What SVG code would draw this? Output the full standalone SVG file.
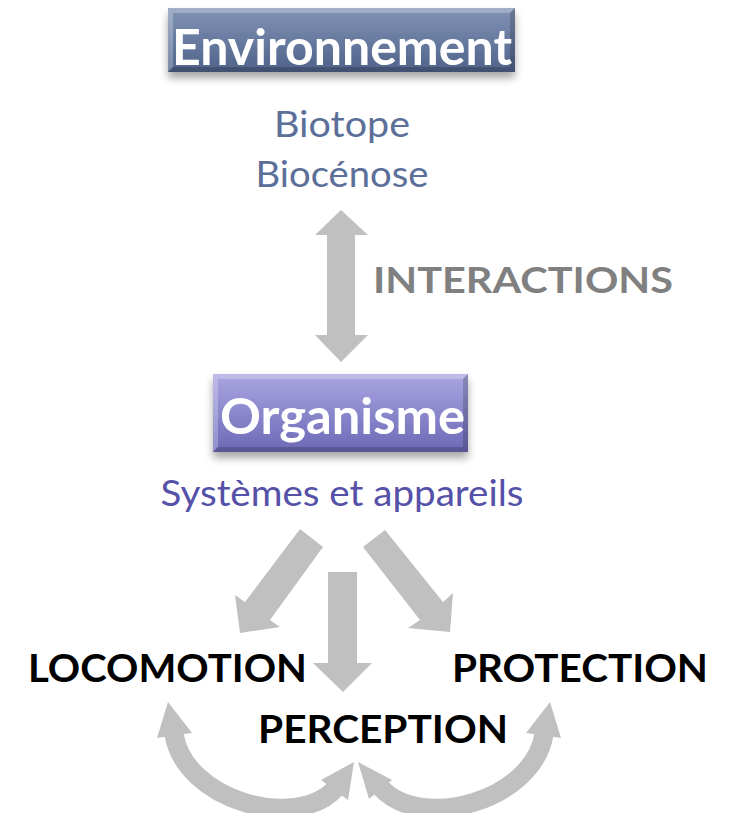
<svg xmlns="http://www.w3.org/2000/svg" width="734" height="813" viewBox="0 0 734 813">
  <defs>
    <linearGradient id="gEnv" x1="0" y1="0" x2="0" y2="1">
      <stop offset="0" stop-color="#8194b6"/>
      <stop offset="1" stop-color="#4f6289"/>
    </linearGradient>
    <linearGradient id="gOrg" x1="0" y1="0" x2="0" y2="1">
      <stop offset="0" stop-color="#aaa6e2"/>
      <stop offset="1" stop-color="#6c68b6"/>
    </linearGradient>
    <filter id="shadow" x="-10%" y="-20%" width="120%" height="160%">
      <feGaussianBlur in="SourceAlpha" stdDeviation="4"/>
      <feOffset dx="0" dy="6" result="b"/>
      <feComponentTransfer><feFuncA type="linear" slope="0.35"/></feComponentTransfer>
      <feMerge><feMergeNode/><feMergeNode in="SourceGraphic"/></feMerge>
    </filter>
  </defs>
  <style>
    .title { font-family: Lato, "Open Sans", "Liberation Sans", sans-serif; font-weight: 700; font-size: 49px; fill: #ffffff; }
    .sub { font-family: Lato, "Open Sans", "Liberation Sans", sans-serif; font-size: 37px; text-anchor: middle; }
    .label { font-family: Lato, "Open Sans", "Liberation Sans", sans-serif; font-weight: 700; font-size: 38px; fill: #000000; }
    .gray { fill: #c0c0c0; }
    .curve { fill: none; stroke: #c0c0c0; stroke-width: 19; }
    .bevel-light { fill: #ffffff; opacity: 0.25; }
    .bevel-dark { fill: #000000; opacity: 0.18; }
  </style>

  <rect width="734" height="813" fill="#ffffff"/>

  <!-- Environment box -->
  <g id="environnement">
    <g filter="url(#shadow)">
      <rect x="168" y="8" width="347" height="64" fill="url(#gEnv)"/>
    </g>
    <polygon class="bevel-light" points="168,8 515,8 510,13 173,13"/>
    <polygon class="bevel-light" points="168,8 173,13 173,67 168,72"/>
    <polygon class="bevel-dark" points="515,8 515,72 510,67 510,13"/>
    <polygon class="bevel-dark" points="168,72 515,72 510,67 173,67"/>
    <text class="title" x="172" y="65" textLength="340" lengthAdjust="spacingAndGlyphs">Environnement</text>
  </g>

  <g id="biotope">
    <text class="sub" x="342" y="137" fill="#5b6f99" textLength="136" lengthAdjust="spacingAndGlyphs">Biotope</text>
    <text class="sub" x="342" y="187" fill="#5b6f99" textLength="173" lengthAdjust="spacingAndGlyphs">Biocénose</text>
  </g>

  <!-- Organism box -->
  <g id="organisme">
    <g filter="url(#shadow)">
      <rect x="213" y="374" width="255" height="78" fill="url(#gOrg)"/>
    </g>
    <polygon class="bevel-light" points="213,374 468,374 463,379 218,379"/>
    <polygon class="bevel-light" points="213,374 218,379 218,447 213,452"/>
    <polygon class="bevel-dark" points="468,374 468,452 463,447 463,379"/>
    <polygon class="bevel-dark" points="213,452 468,452 463,447 218,447"/>
    <text class="title" x="220" y="434" textLength="245" lengthAdjust="spacingAndGlyphs">Organisme</text>
  </g>

  <g id="systemes">
    <text class="sub" x="342" y="506" fill="#5550a8" textLength="363" lengthAdjust="spacingAndGlyphs">Systèmes et appareils</text>
  </g>

  <g id="interactions-label">
    <text x="373" y="293" font-family="Lato, 'Open Sans', 'Liberation Sans', sans-serif" font-weight="700" font-size="36" fill="#808080" textLength="300" lengthAdjust="spacingAndGlyphs">INTERACTIONS</text>
  </g>

  <g id="locomotion">
    <text class="label" x="28" y="682" textLength="279" lengthAdjust="spacingAndGlyphs">LOCOMOTION</text>
  </g>
  <g id="protection">
    <text class="label" x="452" y="682" textLength="256" lengthAdjust="spacingAndGlyphs">PROTECTION</text>
  </g>
  <g id="perception">
    <text class="label" x="258" y="743" textLength="250" lengthAdjust="spacingAndGlyphs">PERCEPTION</text>
  </g>

  <!-- Connectors -->
  <g id="connectors">
    <!-- double arrow between environment and organism -->
    <polygon class="gray" points="341,210 368,235 355,235 355,335 368,335 341,362 315,335 327,335 327,235 315,235"/>
    <!-- organism to the three functions -->
    <polygon class="gray" points="300,529 323,547 270,620 280,627 240,633 235,595 245,602"/>
    <polygon class="gray" points="328,572 357,572 357,663 372,663 343,692 313,663 328,663"/>
    <polygon class="gray" points="363,547 385,530 443,602 453,593 450,632 408,628 420,620"/>
    <!-- locomotion <-> perception -->
    <path class="curve" d="M174,734 C184,800 296,832 336,788"/>
    <polygon class="gray" points="168,702 192,733 157,738"/>
    <polygon class="gray" points="354,762 348,800 321,780"/>
    <!-- perception <-> protection -->
    <path class="curve" d="M544,734 C534,800 422,832 381,788"/>
    <polygon class="gray" points="550,702 561,738 526,733"/>
    <polygon class="gray" points="358,762 392,780 369,799"/>
  </g>
</svg>
